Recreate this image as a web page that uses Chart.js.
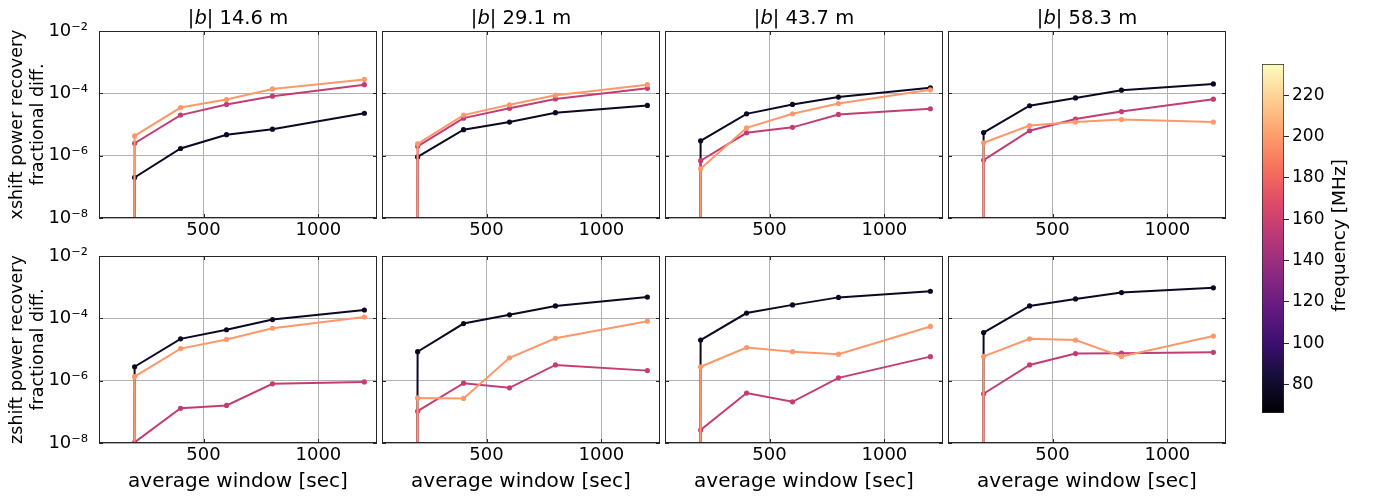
<!DOCTYPE html>
<html>
<head>
<meta charset="utf-8">
<script src="https://cdn.jsdelivr.net/npm/chart.js@4.4.1/dist/chart.umd.min.js"></script>
<style>
  html, body { margin: 0; padding: 0; background: #fff; }
  #fig { position: relative; width: 1380px; height: 498px; overflow: hidden; }
  #fig canvas { position: absolute; }
</style>
</head>
<body>
<div id="fig"></div>
<script>
// ---- data ----
const windowSec = [100, 200, 400, 600, 800, 1200];
const baselineLen = ['14.6', '29.1', '43.7', '58.3'];
const freqMHz = [76, 156, 199];
const freqRange = [66.3, 235.1];
const yTickVals = [1e-8, 1e-6, 1e-4, 1e-2];
const yTickLabels = ['10⁻⁸', '10⁻⁶', '10⁻⁴', '10⁻²'];
const xTickVals = [500, 1000];
const cbarTicks = [80, 100, 120, 140, 160, 180, 200, 220];

// one row per baseline, values at windowSec (first window gives exactly 0)
const xshift76 = [
  [0, 2.0e-7, 1.7e-6, 4.7e-6, 7.1e-6, 2.3e-5],
  [0, 9.1e-7, 6.8e-6, 1.2e-5, 2.4e-5, 4.1e-5],
  [0, 3.0e-6, 2.2e-5, 4.4e-5, 7.6e-5, 1.5e-4],
  [0, 5.5e-6, 4.0e-5, 7.1e-5, 1.26e-4, 2.0e-4]
];
const xshift156 = [
  [0, 2.5e-6, 2.0e-5, 4.4e-5, 8.1e-5, 1.9e-4],
  [0, 2.0e-6, 1.6e-5, 3.3e-5, 6.6e-5, 1.45e-4],
  [0, 6.9e-7, 5.4e-6, 8.1e-6, 2.1e-5, 3.2e-5],
  [0, 7.2e-7, 6.3e-6, 1.5e-5, 2.6e-5, 6.5e-5]
];
const xshift199 = [
  [0, 4.3e-6, 3.5e-5, 6.3e-5, 1.38e-4, 2.8e-4],
  [0, 2.4e-6, 2.0e-5, 4.3e-5, 8.7e-5, 1.9e-4],
  [0, 3.8e-7, 7.8e-6, 2.2e-5, 4.7e-5, 1.3e-4],
  [0, 2.6e-6, 9.3e-6, 1.2e-5, 1.44e-5, 1.2e-5]
];
const zshift76 = [
  [0, 2.8e-6, 2.2e-5, 4.3e-5, 9.1e-5, 1.85e-4],
  [0, 8.5e-6, 6.8e-5, 1.3e-4, 2.5e-4, 4.8e-4],
  [0, 2.0e-5, 1.48e-4, 2.7e-4, 4.7e-4, 7.4e-4],
  [0, 3.5e-5, 2.5e-4, 4.2e-4, 6.7e-4, 9.5e-4]
];
const zshift156 = [
  [0, 1.05e-8, 1.3e-7, 1.6e-7, 7.9e-7, 9.1e-7],
  [0, 1.05e-7, 8.3e-7, 5.9e-7, 3.2e-6, 2.1e-6],
  [0, 2.6e-8, 4.0e-7, 2.1e-7, 1.23e-6, 5.9e-6],
  [0, 3.8e-7, 3.2e-6, 7.4e-6, 7.6e-6, 8.1e-6]
];
const zshift199 = [
  [0, 1.35e-6, 1.07e-5, 2.1e-5, 4.8e-5, 1.1e-4],
  [0, 2.8e-7, 2.7e-7, 5.4e-6, 2.3e-5, 8.1e-5],
  [0, 2.8e-6, 1.15e-5, 8.5e-6, 7.1e-6, 5.5e-5],
  [0, 6.0e-6, 2.2e-5, 2.0e-5, 6.0e-6, 2.7e-5]
];

const rows = [
  { name: 'xshift', series: [xshift76, xshift156, xshift199] },
  { name: 'zshift', series: [zshift76, zshift156, zshift199] }
];

// ---- layout ----
const colLeft = [99, 382, 665, 948];
const panelW = 278, panelH = 187;
const rowTop = [31, 256];
const PAD_L = 99, PAD_R = 8;
const rowPadT = [31, 24], rowPadB = [40, 55];
const CLIP = 1e-300; // log axis: non-positive values are clipped like matplotlib

Chart.defaults.font.family = "'DejaVu Sans', sans-serif";
Chart.defaults.color = '#000';

// magma colormap
const magmaStops = ['#000004', '#140e36', '#3b0f70', '#641a80', '#8c2981', '#b73779',
  '#de4968', '#f7705c', '#fe9f6d', '#fecf92', '#fcfdbf'];
function hexRgb(h) {
  return [1, 3, 5].map(i => parseInt(h.substr(i, 2), 16));
}
function magma(t) {
  t = Math.min(1, Math.max(0, t));
  const n = magmaStops.length - 1;
  const i = Math.min(n - 1, Math.floor(t * n));
  const f = t * n - i;
  const a = hexRgb(magmaStops[i]), b = hexRgb(magmaStops[i + 1]);
  const c = a.map((v, k) => Math.round(v + (b[k] - v) * f));
  return `rgb(${c[0]},${c[1]},${c[2]})`;
}
function freqColor(f) {
  return magma((f - freqRange[0]) / (freqRange[1] - freqRange[0]));
}

// frame + inward ticks on all four sides
const framePlugin = {
  id: 'frame',
  afterDatasetsDraw(chart) {
    const { ctx, chartArea: a, scales } = chart;
    ctx.save();
    ctx.strokeStyle = '#262626';
    ctx.lineWidth = 1;
    ctx.beginPath();
    yTickVals.forEach(v => {
      const y = Math.round(scales.y.getPixelForValue(v)) + 0.5;
      ctx.moveTo(a.left, y); ctx.lineTo(a.left + 4, y);
      ctx.moveTo(a.right - 4, y); ctx.lineTo(a.right, y);
    });
    xTickVals.forEach(v => {
      const x = Math.round(scales.x.getPixelForValue(v)) + 0.5;
      ctx.moveTo(x, a.top); ctx.lineTo(x, a.top + 4);
      ctx.moveTo(x, a.bottom - 4); ctx.lineTo(x, a.bottom);
    });
    ctx.stroke();
    ctx.strokeRect(a.left + 0.5, a.top + 0.5, a.right - a.left - 1, a.bottom - a.top - 1);
    ctx.restore();
  }
};

// column title "|b| 14.6 m" with italic b
const titlePlugin = {
  id: 'panelTitle',
  afterDraw(chart, args, opts) {
    if (!opts.text) return;
    const { ctx, chartArea: a } = chart;
    const parts = [
      { t: '|', f: '19.5px "DejaVu Sans"' },
      { t: 'b', f: 'italic 19.5px "DejaVu Sans"' },
      { t: '| ' + opts.text + ' m', f: '19.5px "DejaVu Sans"' }
    ];
    ctx.save();
    let w = 0;
    parts.forEach(p => { ctx.font = p.f; p.w = ctx.measureText(p.t).width; w += p.w; });
    let x = (a.left + a.right) / 2 - w / 2;
    ctx.fillStyle = '#000';
    ctx.textBaseline = 'alphabetic';
    parts.forEach(p => { ctx.font = p.f; ctx.fillText(p.t, x, a.top - 7); x += p.w; });
    ctx.restore();
  }
};

const fig = document.getElementById('fig');
function addCanvas(left, top, w, h) {
  const cv = document.createElement('canvas');
  cv.width = w; cv.height = h;
  cv.style.left = left + 'px'; cv.style.top = top + 'px';
  cv.style.width = w + 'px'; cv.style.height = h + 'px';
  fig.appendChild(cv);
  return cv;
}

function makePanel(r, c) {
  const padT = rowPadT[r], padB = rowPadB[r];
  const cv = addCanvas(colLeft[c] - PAD_L, rowTop[r] - padT, PAD_L + panelW + PAD_R, padT + panelH + padB);
  const datasets = freqMHz.map((f, k) => {
    const vals = rows[r].series[k][c];
    const col = freqColor(f);
    return {
      data: windowSec.map((x, i) => ({ x: x, y: vals[i] > 0 ? vals[i] : CLIP })),
      borderColor: col,
      backgroundColor: col,
      borderWidth: 2,
      pointRadius: ctx => (ctx.raw && ctx.raw.y > CLIP ? 2.6 : 0),
      pointHoverRadius: 0,
      pointBorderWidth: 0,
      tension: 0,
      clip: 0,
      order: freqMHz.length - k
    };
  });
  const gridOpts = { color: '#b0b0b0', lineWidth: 1, drawTicks: false };
  new Chart(cv, {
    type: 'line',
    data: { datasets: datasets },
    plugins: [framePlugin, titlePlugin],
    options: {
      responsive: false,
      animation: false,
      devicePixelRatio: 1,
      layout: { padding: { top: padT, right: PAD_R, left: 0, bottom: 0 } },
      plugins: {
        legend: { display: false },
        tooltip: { enabled: false },
        panelTitle: { text: r === 0 ? baselineLen[c] : '' }
      },
      scales: {
        x: {
          type: 'linear', min: 45, max: 1255,
          afterBuildTicks: s => { s.ticks = xTickVals.map(v => ({ value: v })); },
          afterFit: s => { s.height = padB; },
          grid: gridOpts,
          border: { display: false },
          ticks: { padding: 2, font: { size: 18 }, color: '#000', callback: v => String(v) },
          title: {
            display: r === 1, text: 'average window [sec]', color: '#000',
            font: { size: 20 }, padding: { top: 0, bottom: 4 }
          }
        },
        y: {
          type: 'logarithmic', min: 1e-8, max: 1e-2,
          afterBuildTicks: s => { s.ticks = yTickVals.map(v => ({ value: v })); },
          afterFit: s => { s.width = PAD_L; },
          grid: gridOpts,
          border: { display: false },
          ticks: {
            display: c === 0, padding: 11, font: { size: 18 }, color: '#000',
            callback: (v, i) => yTickLabels[i]
          },
          title: {
            display: c === 0, text: [rows[r].name + ' power recovery', 'fractional diff.'],
            color: '#000', font: { size: 17.5 }, padding: { top: 7 }
          }
        }
      }
    }
  });
}

for (let r = 0; r < 2; r++) {
  for (let c = 0; c < 4; c++) makePanel(r, c);
}

// ---- colorbar ----
const cbarLabelPlugin = {
  id: 'cbarLabel',
  afterDraw(chart) {
    const { ctx, chartArea: a } = chart;
    ctx.save();
    ctx.translate(100, (a.top + a.bottom) / 2 - 3);
    ctx.rotate(-Math.PI / 2);
    ctx.font = '18.5px "DejaVu Sans"';
    ctx.fillStyle = '#000';
    ctx.textAlign = 'center';
    ctx.textBaseline = 'middle';
    ctx.fillText('frequency [MHz]', 0, 0);
    ctx.restore();
  }
};

const cbarCanvas = addCanvas(1240, 40, 140, 24 + 349 + 25);
new Chart(cbarCanvas, {
  type: 'bar',
  data: {
    labels: [''],
    datasets: [{
      data: [freqRange],
      backgroundColor: ctx => {
        const ch = ctx.chart;
        if (!ch.chartArea) return magmaStops[5];
        const y = ch.scales.y;
        const g = ch.ctx.createLinearGradient(0, y.getPixelForValue(freqRange[0]), 0, y.getPixelForValue(freqRange[1]));
        magmaStops.forEach((s, i) => g.addColorStop(i / (magmaStops.length - 1), s));
        return g;
      },
      borderColor: '#262626',
      borderWidth: 1,
      borderSkipped: false,
      barPercentage: 1,
      categoryPercentage: 1
    }]
  },
  plugins: [cbarLabelPlugin],
  options: {
    responsive: false,
    animation: false,
    devicePixelRatio: 1,
    layout: { padding: { left: 22, top: 24, bottom: 25, right: 0 } },
    plugins: { legend: { display: false }, tooltip: { enabled: false } },
    scales: {
      x: { display: false },
      y: {
        position: 'right', min: freqRange[0], max: freqRange[1],
        afterBuildTicks: s => { s.ticks = cbarTicks.map(v => ({ value: v })); },
        afterFit: s => { s.width = 96; },
        grid: { drawOnChartArea: false, drawTicks: true, tickLength: 5, color: '#262626' },
        border: { display: false },
        ticks: { padding: 3, font: { size: 17 }, color: '#000', callback: v => String(v) }
      }
    }
  }
});
</script>
</body>
</html>
